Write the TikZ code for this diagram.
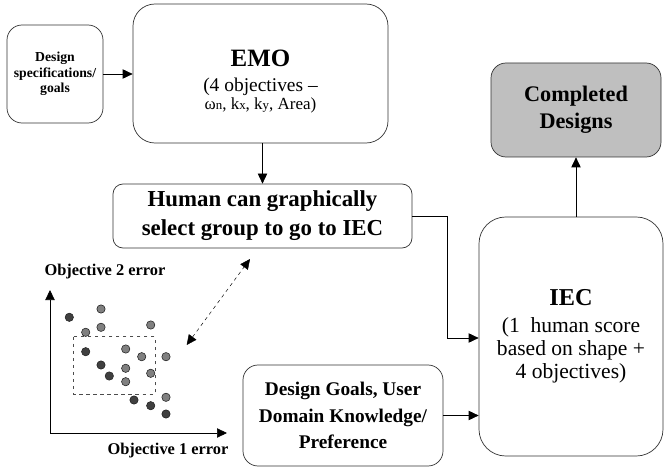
\documentclass[tikz,border=0pt]{standalone}
\usepackage{fontspec}
\setmainfont{Liberation Serif}
\usetikzlibrary{arrows.meta}
\tikzset{>={Triangle[length=3mm,width=2.8mm]}}
\newcommand{\fs}[2]{\fontsize{#1}{#2}\selectfont}

\begin{document}
\begin{tikzpicture}[x=0.3mm, y=-0.3mm,
    box/.style={draw=black!80, line width=0.6pt, align=center, inner sep=0pt},
    link/.style={->, line width=0.6pt},
    dkdot/.style={draw=black!85, fill=black!75, line width=0.5pt},
    ltdot/.style={draw=black!85, fill=black!50, line width=0.5pt}]
  \useasboundingbox (0,0) rectangle (664,469);
  % boxes
  \node[box, rounded corners=4.5mm, minimum width=28.8mm, minimum height=29.4mm,
    font=\fs{11.7pt}{13.3pt}\bfseries] (spec) at (55,74) {Design\\specifications/\\goals};
  \node[box, rounded corners=6.6mm, minimum width=76.5mm, minimum height=41.7mm,
    font=\fs{16.6pt}{15.3pt}] (emo) at (260.5,73.5)
    {\rule{0pt}{28pt}{\fs{21.3pt}{22pt}\bfseries EMO}\\[6pt](4 objectives --\\
     {\fs{14.5pt}{15.3pt}ω{\fs{11pt}{11pt}n}, k{\fs{11pt}{11pt}x}, k{\fs{11pt}{11pt}y}, Area)}};
  \node[box, rounded corners=3mm, minimum width=89.7mm, minimum height=19.2mm,
    font=\fs{19.5pt}{24.7pt}\bfseries] (human) at (262.5,216) {Human can graphically\\select group to go to IEC};
  \node[box, fill=black!25, rounded corners=4.5mm, minimum width=51mm, minimum height=28.2mm,
    font=\fs{19pt}{22.7pt}\bfseries] (done) at (576,110) {Completed\\Designs};
  \node[box, rounded corners=8mm, minimum width=55.2mm, minimum height=71.7mm,
    font=\fs{18.4pt}{20pt}] (iec) at (571,336.5)
    {{\fs{20.7pt}{22pt}\bfseries IEC}\\[2.7pt](1~ human score\\based on shape +\\4 objectives)};
  \node[box, rounded corners=4.5mm, minimum width=60mm, minimum height=30.3mm,
    font=\fs{16.5pt}{22.7pt}\bfseries] (goals) at (343,415.5) {Design Goals, User\\Domain Knowledge/\\Preference};
  % arrows
  \coordinate (bend) at (447,338);
  \draw[link] (spec.east) -- (spec.east -| emo.west);
  \draw[link] (human.north |- emo.south) -- (human.north);
  \draw[link] (human.east) -| (bend) -- (bend -| iec.west);
  \draw[link] (goals.east) -- (goals.east -| iec.west);
  \draw[link] (iec.north -| done.south) -- (done.south);
  % plot
  \coordinate (orig) at (50,433);
  \coordinate (ytip) at (50,290);
  \coordinate (xtip) at (227,433);
  \draw[<->, line width=0.6pt] (ytip) -- (orig) -- (xtip);
  \node[font=\fs{14pt}{16pt}\bfseries] (ylab) at (105,272) {Objective 2 error};
  \node[font=\fs{14pt}{16pt}\bfseries] (xlab) at (168,451) {Objective 1 error};
  \draw[dashed, black!70, line width=0.6pt] (73.3,336.7) rectangle (155,394);
  \foreach \x/\y in {69.3/317.3, 85.7/351.7, 101/365, 109.3/376, 134/400, 150.7/405.7, 166/414}
    \draw[dkdot] (\x,\y) circle (1.25mm);
  \foreach \x/\y in {101/309, 101/327.3, 85.7/332.3, 150.7/325, 125.7/349, 141.7/356.7,
      166/356.7, 125.7/368.3, 150.7/373.3, 125.7/381.7, 166/397.3}
    \draw[ltdot] (\x,\y) circle (1.25mm);
  \coordinate (grp) at (186.7,345);
  \coordinate (pick) at (250,259);
  \draw[<->, dashed, line width=0.4pt] (grp) -- (pick);
\end{tikzpicture}
\end{document}
